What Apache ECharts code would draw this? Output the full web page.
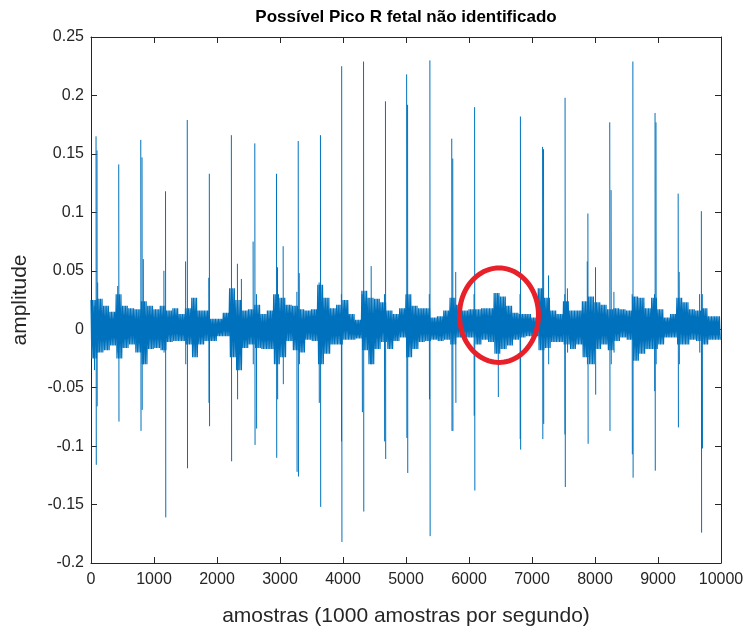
<!DOCTYPE html>
<html>
<head>
<meta charset="utf-8">
<script src="https://cdn.jsdelivr.net/npm/echarts@6/dist/echarts.min.js"></script>
<style>
  html, body { margin: 0; padding: 0; background: #ffffff; }
  #chart { width: 749px; height: 632px; }
</style>
</head>
<body>
<div id="chart"></div>
<script>
// Axis ticks
const xTicks = [0, 1000, 2000, 3000, 4000, 5000, 6000, 7000, 8000, 9000, 10000];
const yTicks = [-0.2, -0.15, -0.1, -0.05, 0, 0.05, 0.1, 0.15, 0.2, 0.25];

// Maternal/fetal R peaks: sample index, positive tip, negative tip
const rPeakSample = [80, 440, 790, 1183, 1528, 1878, 2228, 2600, 2944, 3289, 3642, 3979, 4326, 4674,
                     5010, 5379, 5726, 6089, 6816, 7168, 7525, 7887, 8234, 8601, 8953, 9320, 9688];
const rPeakHigh   = [0.165, 0.141, 0.162, 0.118, 0.179, 0.133, 0.166, 0.159, 0.133, 0.161, 0.166, 0.225, 0.229, 0.195,
                     0.218, 0.230, 0.163, 0.190, 0.182, 0.156, 0.198, 0.099, 0.177, 0.229, 0.185, 0.116, 0.101];
const rPeakLow    = [-0.116, -0.079, -0.087, -0.161, -0.119, -0.083, -0.113, -0.099, -0.110, -0.126, -0.152, -0.182, -0.156, -0.111,
                     -0.093, -0.177, -0.087, -0.138, -0.103, -0.094, -0.135, -0.098, -0.087, -0.127, -0.121, -0.084, -0.174];

// Secondary deflections around the complexes
const minorSample = [53, 95, 106, 424, 810, 830, 1157, 1501, 1870, 2324, 2387, 2573, 2626, 2960, 3050, 3268,
                     3305, 3621, 3974, 4305, 4447, 4658, 5025, 5370, 5742, 5789, 6080, 6463,
                     6810, 7183, 7262, 7520, 7562, 7877, 8008, 8255, 8300, 8590, 8945, 8968, 9336, 9660, 9703];
const minorHigh   = [0.020, 0.153, 0.040, 0.037, 0.147, 0.060, 0.050, 0.058, 0.044, 0.056, 0.043, 0.075, 0.030, 0.053, 0.071, 0.032,
                     0.048, 0.040, 0.030, 0.030, 0.054, 0.030, 0.192, 0.030, 0.146, 0.049, 0.030, 0.029,
                     0.030, 0.154, 0.046, 0.030, 0.035, 0.058, 0.053, 0.119, 0.032, 0.030, 0.030, 0.177, 0.049, 0.030, 0.030];
const minorLow    = [-0.035, -0.066, -0.020, -0.020, -0.069, -0.030, -0.020, -0.030, -0.063, -0.060, -0.030, -0.030, -0.085, -0.060, -0.047, -0.122,
                     -0.030, -0.063, -0.096, -0.071, -0.030, -0.096, -0.123, -0.060, -0.087, -0.063, -0.074, -0.058,
                     -0.094, -0.081, -0.030, -0.090, -0.020, -0.030, -0.056, -0.030, -0.020, -0.107, -0.053, -0.030, -0.030, -0.020, -0.102];

// Background noise band, one value per 100 samples
const bandWidth = 100;
const bandUpper = [0.025, 0.026, 0.020, 0.015, 0.030, 0.020, 0.018, 0.017, 0.024, 0.020,
                   0.017, 0.020, 0.016, 0.018, 0.013, 0.018, 0.027, 0.016, 0.016, 0.009,
                   0.009, 0.014, 0.035, 0.025, 0.016, 0.017, 0.021, 0.013, 0.016, 0.030,
                   0.027, 0.021, 0.020, 0.017, 0.016, 0.017, 0.038, 0.027, 0.018, 0.021,
                   0.025, 0.013, 0.008, 0.033, 0.027, 0.026, 0.023, 0.016, 0.013, 0.018,
                   0.030, 0.020, 0.018, 0.018, 0.010, 0.011, 0.016, 0.027, 0.021, 0.016,
                   0.017, 0.017, 0.018, 0.018, 0.031, 0.028, 0.020, 0.014, 0.013, 0.013,
                   0.010, 0.035, 0.027, 0.016, 0.013, 0.024, 0.016, 0.016, 0.024, 0.028,
                   0.023, 0.021, 0.017, 0.018, 0.017, 0.016, 0.028, 0.027, 0.018, 0.027,
                   0.017, 0.010, 0.013, 0.027, 0.023, 0.017, 0.016, 0.018, 0.011, 0.011];
const bandLower = [-0.025, -0.020, -0.018, -0.014, -0.025, -0.016, -0.013, -0.020, -0.030, -0.017,
                   -0.016, -0.018, -0.011, -0.010, -0.010, -0.013, -0.024, -0.013, -0.010, -0.010,
                   -0.006, -0.006, -0.024, -0.035, -0.016, -0.013, -0.016, -0.017, -0.017, -0.030,
                   -0.024, -0.010, -0.018, -0.020, -0.009, -0.010, -0.030, -0.021, -0.013, -0.013,
                   -0.009, -0.009, -0.008, -0.018, -0.030, -0.017, -0.011, -0.017, -0.010, -0.007,
                   -0.024, -0.017, -0.011, -0.010, -0.009, -0.010, -0.009, -0.013, -0.007, -0.007,
                   -0.007, -0.013, -0.009, -0.011, -0.021, -0.017, -0.014, -0.009, -0.007, -0.006,
                   -0.006, -0.018, -0.016, -0.011, -0.011, -0.013, -0.017, -0.013, -0.024, -0.030,
                   -0.017, -0.013, -0.018, -0.010, -0.007, -0.009, -0.027, -0.021, -0.017, -0.017,
                   -0.013, -0.007, -0.007, -0.013, -0.013, -0.009, -0.010, -0.013, -0.009, -0.009];

// Highlight around the unidentified fetal peak (data units)
const markCenter = [6476, 0.012];
const markRadius = [627, 0.0404];

// Noise band: each bin drawn as a run of strokes between its upper and lower extremes
const strokesPerBin = 8;
const bandTrace = [];
bandUpper.forEach((u, i) => {
  const s0 = i * bandWidth;
  for (let k = 0; k < strokesPerBin; k++) {
    bandTrace.push([s0 + (k * bandWidth) / strokesPerBin, k % 2 === 0 ? u : bandLower[i]]);
  }
});

// Peaks: each deflection is one up/down stroke, separated by gaps
const peakTrace = [];
const strokes = [];
rPeakSample.forEach((s, k) => strokes.push([s, rPeakHigh[k], rPeakLow[k], 4]));
minorSample.forEach((s, k) => strokes.push([s, minorHigh[k], minorLow[k], 3]));
strokes.sort((a, b) => a[0] - b[0]);
strokes.forEach(([s, hi, lo, w]) => {
  peakTrace.push([s, hi], [s + w, lo], [s + w, '-']);
});

const lineColor = '#0072BD';
const axisColor = '#262626';
const fontFamily = '"Liberation Sans", Arial, Helvetica, sans-serif';

const chart = echarts.init(document.getElementById('chart'), null, { renderer: 'canvas' });

const xBase = {
  type: 'value',
  min: xTicks[0],
  max: xTicks[xTicks.length - 1],
  interval: xTicks[1] - xTicks[0],
  splitLine: { show: false },
  axisLine: { show: true, onZero: false, lineStyle: { color: axisColor, width: 1 } },
  axisTick: { show: true, inside: true, length: 6, lineStyle: { color: axisColor, width: 1 } }
};
const yBase = {
  type: 'value',
  min: yTicks[0],
  max: yTicks[yTicks.length - 1],
  interval: 0.05,
  splitLine: { show: false },
  axisLine: { show: true, onZero: false, lineStyle: { color: axisColor, width: 1 } },
  axisTick: { show: true, inside: true, length: 6, lineStyle: { color: axisColor, width: 1 } }
};

chart.setOption({
  animation: false,
  backgroundColor: '#ffffff',
  grid: { left: 91, right: 28, top: 37, bottom: 65, containLabel: false },
  graphic: [{
    type: 'text',
    x: 406,
    y: 17,
    style: {
      text: 'Possível Pico R fetal não identificado',
      fill: '#000000',
      font: 'bold 17px ' + fontFamily,
      textAlign: 'center',
      textVerticalAlign: 'middle'
    }
  }],
  xAxis: [
    Object.assign({}, xBase, {
      position: 'bottom',
      name: 'amostras (1000 amostras por segundo)',
      nameLocation: 'middle',
      nameGap: 43,
      nameTextStyle: { color: axisColor, fontSize: 21, fontFamily: fontFamily },
      axisLabel: {
        show: true, color: axisColor, fontSize: 16, fontFamily: fontFamily, margin: 9,
        formatter: v => String(v)
      }
    }),
    Object.assign({}, xBase, { position: 'top', axisLabel: { show: false } })
  ],
  yAxis: [
    Object.assign({}, yBase, {
      position: 'left',
      name: 'amplitude',
      nameLocation: 'middle',
      nameGap: 60,
      nameTextStyle: { color: axisColor, fontSize: 21, fontFamily: fontFamily },
      axisLabel: { show: true, color: axisColor, fontSize: 16, fontFamily: fontFamily, margin: 7 }
    }),
    Object.assign({}, yBase, { position: 'right', axisLabel: { show: false } })
  ],
  series: [
    {
      type: 'line',
      data: bandTrace,
      showSymbol: false,
      symbol: 'none',
      sampling: null,
      lineStyle: { color: lineColor, width: 1.2 },
      z: 2
    },
    {
      type: 'line',
      data: peakTrace,
      showSymbol: false,
      symbol: 'none',
      sampling: null,
      connectNulls: false,
      lineStyle: { color: lineColor, width: 1 },
      z: 3
    },
    {
      type: 'custom',
      data: [markCenter],
      clip: false,
      z: 5,
      renderItem: function (params, api) {
        const cx = api.value(0), cy = api.value(1);
        const pts = [];
        for (let k = 0; k < 96; k++) {
          const t = (k / 96) * Math.PI * 2;
          pts.push(api.coord([cx + markRadius[0] * Math.cos(t), cy + markRadius[1] * Math.sin(t)]));
        }
        return {
          type: 'polygon',
          shape: { points: pts },
          style: { fill: null, stroke: '#E8202A', lineWidth: 5 }
        };
      }
    }
  ]
});
</script>
</body>
</html>
